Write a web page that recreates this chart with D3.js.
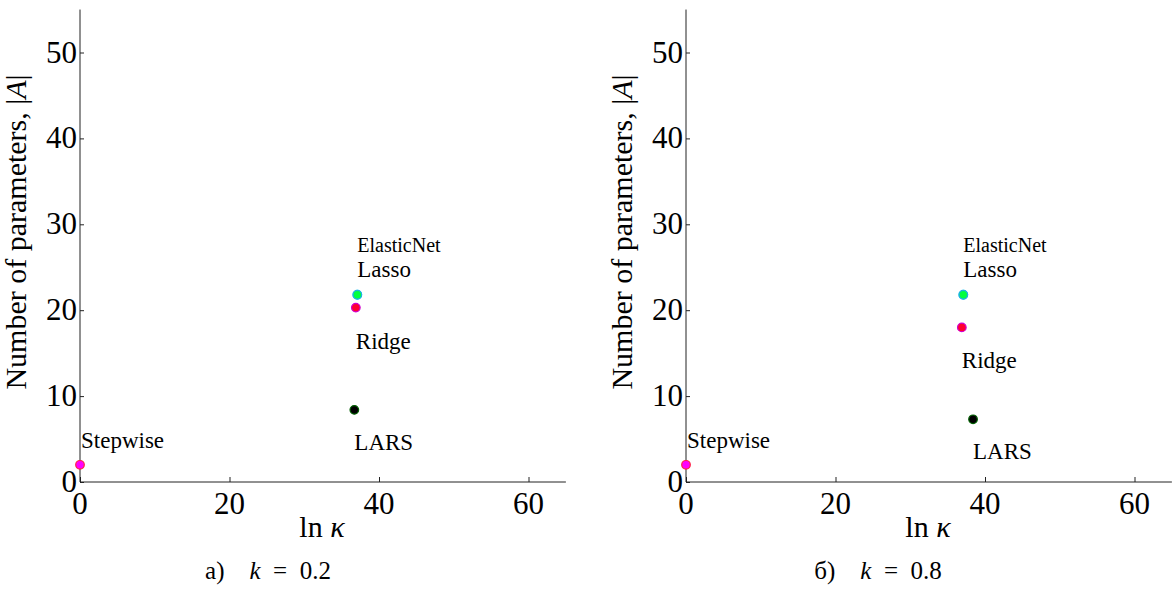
<!DOCTYPE html>
<html><head><meta charset="utf-8">
<script src="https://cdn.jsdelivr.net/npm/d3@7"></script>
<style>
html,body{margin:0;padding:0;background:#fff;}
svg text{font-family:"Liberation Serif","Times New Roman",serif;}
</style>
</head>
<body>
<script>
// ---- data ----
const methods = ["ElasticNet", "Lasso", "Ridge", "LARS", "Stepwise"];
const lnKappaA = [37.1, 37.1, 36.9, 36.7, 0];
const paramsA  = [21.8, 21.8, 20.3, 8.4, 2.0];
const lnKappaB = [37.1, 37.1, 36.9, 38.4, 0];
const paramsB  = [21.8, 21.8, 18.0, 7.3, 2.0];
const xTicks = [0, 20, 40, 60];
const yTicks = [0, 10, 20, 30, 40, 50];
const captions = ["а)", "б)"];
const kValues = ["0.2", "0.8"];

// ---- styles ----
const fills   = {ElasticNet:"#1ec8ff", Lasso:"#00ff40", Ridge:"#ff0030", LARS:"#000000", Stepwise:"#ff00ff"};
const strokes = {ElasticNet:"#1ec8ff", Lasso:"#20b0e0", Ridge:"#d000d0", LARS:"#006000", Stepwise:"#ff2040"};
const labelOff = {ElasticNet:[0,-43,20], Lasso:[0,-18,23], Ridge:[0,34,23], LARS:[0,33,23], Stepwise:[1,-17,23]};

const W = 1172, H = 609;
const svg = d3.select("body").append("svg").attr("width", W).attr("height", H)
  .attr("font-family", "Liberation Serif");

const panels = [
  {x0:80, lnk:lnKappaA, p:paramsA, cap:captions[0], k:kValues[0], cx:268},
  {x0:686, lnk:lnKappaB, p:paramsB, cap:captions[1], k:kValues[1], cx:878}
];

function T(sel){ return sel.append("text").attr("font-family", "Liberation Serif").style("font-family", '"Liberation Serif"'); }

panels.forEach(pn => {
  const x = d3.scaleLinear().domain([0,65]).range([pn.x0, pn.x0 + 65*7.475]);
  const y = d3.scaleLinear().domain([0,55]).range([482, 482-55*8.59]);
  const g = svg.append("g");

  const xa = g.append("g").attr("transform","translate(0,482)")
    .call(d3.axisTop(x).tickValues(xTicks).tickSize(5).tickFormat(""));
  xa.attr("font-family", null);
  xa.select(".domain").attr("d", `M${pn.x0},0H${Math.min(x(65),W)}`).attr("stroke","#222");
  xa.selectAll(".tick line").attr("stroke","#222");

  const ya = g.append("g").attr("transform",`translate(${pn.x0},0)`)
    .call(d3.axisRight(y).tickValues(yTicks).tickSize(4).tickFormat(""));
  ya.attr("font-family", null);
  ya.select(".domain").attr("d", `M0,${y(55)}V${y(0)}`).attr("stroke","#222");
  ya.selectAll(".tick line").attr("stroke","#222");

  xTicks.forEach(d => {
    T(g).attr("x", x(d)).attr("y", 514).attr("text-anchor","middle")
      .attr("font-size", 31).text(d);
  });
  yTicks.forEach(d => {
    T(g).attr("x", pn.x0-3).attr("y", y(d)+10).attr("text-anchor","end")
      .attr("font-size", 31).text(d);
  });

  // axis titles
  const xt = T(g).attr("x", (pn.x0+x(65))/2 - 1).attr("y", 537)
    .attr("text-anchor","middle").attr("font-size", 30);
  xt.append("tspan").text("ln ");
  xt.append("tspan").attr("font-style","italic").text("κ");

  const yt = T(g).attr("transform",`translate(${pn.x0-54},${232}) rotate(-90)`)
    .attr("text-anchor","middle").attr("font-size", 30);
  yt.append("tspan").text("Number of parameters, |");
  yt.append("tspan").attr("font-style","italic").text("A");
  yt.append("tspan").text("|");

  // points
  const data = methods.map((m,i)=>({m, lx:pn.lnk[i], n:pn.p[i]}));
  g.selectAll("circle").data(data).join("circle")
    .attr("cx", d=>x(d.lx)).attr("cy", d=>y(d.n)).attr("r", 4.3)
    .attr("fill", d=>fills[d.m]).attr("stroke", d=>strokes[d.m]).attr("stroke-width", 1.2);

  data.forEach(d => {
    const o = labelOff[d.m];
    T(g).attr("x", x(d.lx)+o[0]).attr("y", y(d.n)+o[1]+(o[1]>0?7:0))
      .attr("font-size", o[2]).text(d.m);
  });

  // caption
  const c = T(g).attr("x", pn.cx).attr("y", 579).attr("text-anchor","middle").attr("font-size", 25);
  c.append("tspan").text(pn.cap + "\u2003");
  c.append("tspan").attr("font-style","italic").text("k");
  c.append("tspan").text("\u2002=\u2002" + pn.k);
});
</script>
</body></html>
